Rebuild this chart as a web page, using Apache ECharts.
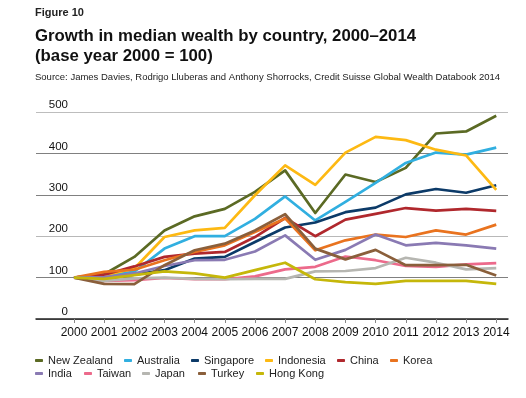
<!DOCTYPE html>
<html>
<head>
<meta charset="utf-8">
<script src="https://cdn.jsdelivr.net/npm/echarts@6/dist/echarts.min.js"></script>
<style>
  html, body { margin: 0; padding: 0; background: #fff; }
  #main { width: 526px; height: 398px; }
</style>
</head>
<body>
<div id="main"></div>
<script>
// years on the x axis
var years = [2000, 2001, 2002, 2003, 2004, 2005, 2006, 2007, 2008, 2009, 2010, 2011, 2012, 2013, 2014];
var yTicks = [0, 100, 200, 300, 400, 500];

// index values (2000 = 100)
var newZealand = [100, 108, 150, 214, 248, 266, 307, 359, 256, 349, 331, 365, 448, 453, 491];
var australia  = [100, 104, 114, 170, 200, 200, 242, 296, 238, 283, 329, 377, 402, 397, 414];
var singapore  = [100, 97, 107, 118, 146, 150, 186, 221, 233, 258, 269, 301, 314, 305, 323];
var indonesia  = [100, 105, 122, 198, 214, 220, 299, 371, 324, 402, 440, 432, 409, 395, 312];
var china      = [100, 107, 127, 150, 158, 162, 198, 244, 200, 240, 254, 268, 262, 266, 261];
var korea      = [100, 114, 119, 142, 162, 178, 210, 243, 166, 190, 204, 198, 214, 204, 228];
var india      = [100, 101, 110, 128, 142, 143, 163, 202, 143, 167, 204, 178, 184, 178, 170];
var taiwan     = [100, 92, 94, 99, 96, 96, 103, 120, 126, 151, 142, 128, 126, 132, 135];
var japan      = [100, 92, 98, 100, 97, 96, 97, 97, 115, 116, 123, 148, 136, 120, 123];
var turkey     = [100, 85, 84, 130, 166, 182, 214, 253, 170, 144, 167, 130, 130, 131, 105];
var hongKong   = [100, 97, 106, 115, 110, 100, 118, 136, 96, 89, 85, 92, 92, 92, 85];

var countries = ['New Zealand', 'Australia', 'Singapore', 'Indonesia', 'China', 'Korea',
                 'India', 'Taiwan', 'Japan', 'Turkey', 'Hong Kong'];
var values = [newZealand, australia, singapore, indonesia, china, korea,
              india, taiwan, japan, turkey, hongKong];
var colors = ['#5b6a24', '#31afe0', '#0c3a68', '#fdb913', '#b0282d', '#e9731f',
              '#8a7ab3', '#ec6a8b', '#b6b6b1', '#8a5f3b', '#c5b70a'];

// where each legend entry sits (two rows, like the figure)
var legendPos = [[35, 355], [124, 355], [191, 355], [265, 355], [337, 355], [390, 355],
                 [35, 368], [84, 368], [142, 368], [198, 368], [256, 368]];

var FONT = '"Liberation Sans", Arial, Helvetica, sans-serif';

var chart = echarts.init(document.getElementById('main'));

var series = countries.map(function (name, i) {
  return {
    name: name,
    type: 'line',
    symbol: 'none',
    color: colors[i],
    lineStyle: { width: 2.7, color: colors[i], join: 'round' },
    data: years.map(function (y, j) { return [y, values[i][j]]; })
  };
});

var legends = countries.map(function (name, i) {
  return {
    data: [name],
    left: legendPos[i][0],
    top: legendPos[i][1],
    padding: 0,
    itemGap: 0,
    itemWidth: 8,
    itemHeight: 3,
    icon: 'roundRect',
    textStyle: { fontFamily: FONT, fontSize: 11, color: '#222' }
  };
});

var option = {
  backgroundColor: '#fff',
  animation: false,
  title: [
    {
      text: 'Figure 10',
      left: 35, top: 7, padding: 0,
      textStyle: { fontFamily: FONT, fontSize: 11, fontWeight: 'bold', color: '#222' }
    },
    {
      text: 'Growth in median wealth by country, 2000–2014\n(base year 2000 = 100)',
      left: 35, top: 26, padding: 0,
      textStyle: { fontFamily: FONT, fontSize: 16.8, fontWeight: 'bold', color: '#111', lineHeight: 20 }
    },
    {
      text: 'Source: James Davies, Rodrigo Lluberas and Anthony Shorrocks, Credit Suisse Global Wealth Databook 2014',
      left: 35, top: 72, padding: 0,
      textStyle: { fontFamily: FONT, fontSize: 9.5, fontWeight: 'normal', color: '#222' }
    }
  ],
  legend: legends,
  grid: { left: 36, right: 18, top: 112, bottom: 79, containLabel: false },
  xAxis: {
    type: 'value',
    min: 1998.74,
    max: 2014.39,
    axisLine: { show: true, lineStyle: { color: '#222', width: 1.5 } },
    axisTick: {
      show: true, length: 4, inside: false,
      customValues: years,
      lineStyle: { color: '#888' }
    },
    axisLabel: {
      customValues: years,
      margin: 8,
      fontFamily: FONT, fontSize: 12, color: '#111',
      formatter: function (v) { return String(v); }
    },
    splitLine: { show: false }
  },
  yAxis: {
    type: 'value',
    min: 0,
    max: 500,
    interval: 100,
    axisLine: { show: false },
    axisTick: { show: false },
    axisLabel: {
      inside: true,
      margin: 32,
      align: 'right',
      verticalAlign: 'bottom',
      padding: [0, 0, 1, 0],
      fontFamily: FONT, fontSize: 11.5, color: '#111',
      formatter: function (v) { return yTicks.indexOf(v) >= 0 ? String(v) : ''; }
    },
    splitLine: {
      show: true,
      lineStyle: { width: 1, color: ['#888', '#808080', '#b8b8b8', '#808080', '#808080', '#bdbdbd'] }
    }
  },
  series: series
};

chart.setOption(option);
</script>
</body>
</html>
